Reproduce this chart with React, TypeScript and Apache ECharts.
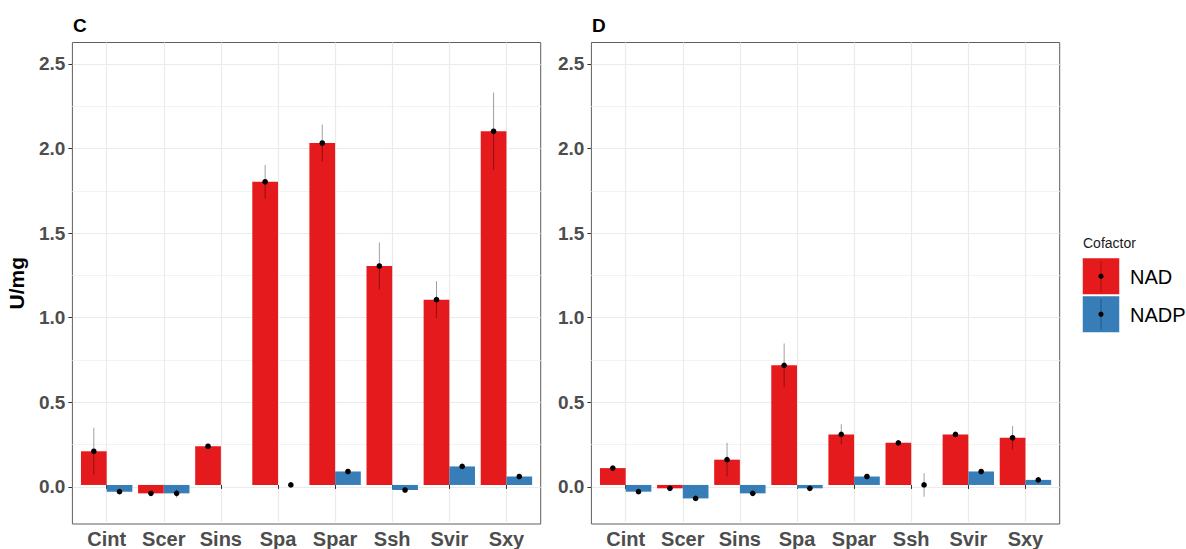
import React, { useEffect, useRef } from "react";
import * as echarts from "echarts";

const categories = ["Cint", "Scer", "Sins", "Spa", "Spar", "Ssh", "Svir", "Sxy"];
// Panel C
const nadC = [0.2, -0.05, 0.23, 1.8, 2.03, 1.3, 1.1, 2.1];
const nadCErr = [0.14, 0.01, 0.015, 0.1, 0.11, 0.14, 0.11, 0.23];
const nadpC = [-0.04, -0.05, null, 0.0, 0.08, -0.03, 0.11, 0.05];
const nadpCErr = [0.01, 0.025, null, 0.005, 0.01, 0.01, 0.01, 0.01];
// Panel D
const nadD = [0.1, -0.02, 0.15, 0.71, 0.3, 0.25, 0.3, 0.28];
const nadDErr = [0.01, 0.005, 0.1, 0.13, 0.06, 0.01, 0.01, 0.07];
const nadpD = [-0.04, -0.08, -0.05, -0.02, 0.05, 0.0, 0.08, 0.03];
const nadpDErr = [0.01, 0.01, 0.01, 0.01, 0.01, 0.07, 0.01, 0.01];

const yTicks = [0, 0.5, 1, 1.5, 2, 2.5];
const yMinor = [0.25, 0.75, 1.25, 1.75, 2.25];
const Y_MIN = -0.22;
const Y_MAX = 2.627;

const RED = "#E41A1C";
const BLUE = "#377EB8";
const FONT = "Liberation Sans, Arial, Helvetica, sans-serif";

const PANEL_W = 468.3;
const PANEL_TOP = 42.5;
const PANEL_H = 481.5;
const BAND = PANEL_W / 8.2;
const panelsLeft = [72.4, 591.4];

function errItems(vals: (number | null)[], errs: (number | null)[], side: number) {
  const out: any[] = [];
  vals.forEach((v, i) => {
    if (v === null || v === undefined) return;
    const e = (errs[i] as number) || 0;
    out.push([i, v, v - e, v + e, side]);
  });
  return out;
}

function renderErr(params: any, api: any) {
  const idx = api.value(0);
  const v = api.value(1);
  const lo = api.value(2);
  const hi = api.value(3);
  const side = api.value(4);
  const band = api.size([1, 0])[0];
  const dx = side * 0.225 * band;
  const p = api.coord([idx, v]);
  const pl = api.coord([idx, lo]);
  const ph = api.coord([idx, hi]);
  const x = p[0] + dx;
  return {
    type: "group",
    children: [
      {
        type: "line",
        shape: { x1: x, y1: ph[1], x2: x, y2: pl[1] },
        style: { stroke: "rgba(0,0,0,0.38)", lineWidth: 1 },
      },
      {
        type: "circle",
        shape: { cx: x, cy: p[1], r: 2.8 },
        style: { fill: "#000" },
      },
    ],
  };
}

export default function App() {
  const ref = useRef<HTMLDivElement>(null);
  useEffect(() => {
    if (!ref.current) return;
    const chart = echarts.init(ref.current, null, { renderer: "svg" });

    const grids: any[] = [];
    const xAxes: any[] = [];
    const yAxes: any[] = [];
    const series: any[] = [];
    const panelData = [
      { nad: nadC, nadErr: nadCErr, nadp: nadpC, nadpErr: nadpCErr },
      { nad: nadD, nadErr: nadDErr, nadp: nadpD, nadpErr: nadpDErr },
    ];

    panelsLeft.forEach((left, p) => {
      const outer = p * 2;
      const inner = p * 2 + 1;
      grids.push({
        left: left,
        top: PANEL_TOP,
        width: PANEL_W,
        height: PANEL_H,
        show: true,
        borderColor: "#5e5e5e",
        borderWidth: 1,
        backgroundColor: "transparent",
        containLabel: false,
      });
      grids.push({
        left: left + 0.1 * BAND,
        top: PANEL_TOP,
        width: 8 * BAND,
        height: PANEL_H,
        containLabel: false,
      });
      xAxes.push({ type: "value", gridIndex: outer, min: 0, max: 1, show: false });
      xAxes.push({
        type: "category",
        gridIndex: inner,
        data: categories,
        axisLine: { show: false },
        axisTick: {
          show: true,
          interval: 0,
          alignWithLabel: true,
          length: 4,
          lineStyle: { color: "#333", width: 1 },
        },
        axisLabel: {
          show: true,
          interval: 0,
          hideOverlap: false,
          margin: 7,
          fontFamily: FONT,
          fontWeight: "bold",
          fontSize: 20,
          color: "#4D4D4D",
        },
        splitLine: { show: false },
      });
      yAxes.push({
        type: "value",
        gridIndex: outer,
        min: Y_MIN,
        max: Y_MAX,
        axisLine: { show: false },
        splitLine: { show: false },
        axisTick: {
          show: true,
          customValues: yTicks,
          length: 4,
          lineStyle: { color: "#333", width: 1 },
        },
        axisLabel: {
          show: true,
          customValues: yTicks,
          formatter: (v: number) => v.toFixed(1),
          margin: 7,
          fontFamily: FONT,
          fontWeight: "bold",
          fontSize: 19,
          color: "#4D4D4D",
        },
        name: p === 0 ? "U/mg" : "",
        nameLocation: "middle",
        nameRotate: 90,
        nameGap: 45,
        nameTextStyle: { fontFamily: FONT, fontWeight: "bold", fontSize: 21, color: "#000" },
      });
      yAxes.push({ type: "value", gridIndex: inner, min: Y_MIN, max: Y_MAX, show: false });

      // horizontal grid lines
      series.push({
        type: "line",
        xAxisIndex: outer,
        yAxisIndex: outer,
        data: [],
        silent: true,
        markLine: {
          silent: true,
          symbol: "none",
          z: 0,
          animation: false,
          label: { show: false },
          data: [
            ...yMinor.map((v) => ({ yAxis: v, lineStyle: { color: "#F2F2F2", width: 1, type: "solid" } })),
            ...yTicks.map((v) => ({ yAxis: v, lineStyle: { color: "#EBEBEB", width: 1.2, type: "solid" } })),
          ],
        },
      });
      // vertical grid lines
      series.push({
        type: "line",
        xAxisIndex: inner,
        yAxisIndex: inner,
        data: [],
        silent: true,
        markLine: {
          silent: true,
          symbol: "none",
          z: 0,
          animation: false,
          label: { show: false },
          data: categories.map((c) => ({ xAxis: c, lineStyle: { color: "#EBEBEB", width: 1.2, type: "solid" } })),
        },
      });

      const d = panelData[p];
      series.push({
        type: "bar",
        name: "NAD",
        xAxisIndex: inner,
        yAxisIndex: inner,
        data: d.nad,
        barWidth: "45%",
        barGap: "0%",
        itemStyle: { color: RED },
        z: 2,
      });
      series.push({
        type: "bar",
        name: "NADP",
        xAxisIndex: inner,
        yAxisIndex: inner,
        data: d.nadp,
        barWidth: "45%",
        barGap: "0%",
        itemStyle: { color: BLUE },
        z: 2,
      });
      series.push({
        type: "custom",
        xAxisIndex: inner,
        yAxisIndex: inner,
        renderItem: renderErr,
        data: [...errItems(d.nad, d.nadErr, -1), ...errItems(d.nadp, d.nadpErr, 1)],
        z: 3,
      });
    });

    const graphic: any[] = [
      {
        type: "text",
        x: 73,
        y: 25,
        style: { text: "C", fontFamily: FONT, fontWeight: "bold", fontSize: 19, fill: "#000", verticalAlign: "middle" },
      },
      {
        type: "text",
        x: 592,
        y: 25,
        style: { text: "D", fontFamily: FONT, fontWeight: "bold", fontSize: 19, fill: "#000", verticalAlign: "middle" },
      },
      {
        type: "text",
        x: 1083,
        y: 243,
        style: { text: "Cofactor", fontFamily: FONT, fontSize: 14, fill: "#1a1a1a", verticalAlign: "middle" },
      },
    ];
    const legendItems = [
      { name: "NAD", color: RED, y: 258 },
      { name: "NADP", color: BLUE, y: 296 },
    ];
    legendItems.forEach((it) => {
      graphic.push({
        type: "rect",
        shape: { x: 1082.5, y: it.y, width: 37, height: 36.5 },
        style: { fill: it.color, stroke: "rgba(255,255,255,0.5)", lineWidth: 1 },
      });
      graphic.push({
        type: "line",
        shape: { x1: 1101, y1: it.y + 3, x2: 1101, y2: it.y + 33.5 },
        style: { stroke: "rgba(0,0,0,0.3)", lineWidth: 1 },
      });
      graphic.push({
        type: "circle",
        shape: { cx: 1101, cy: it.y + 18.25, r: 2.6 },
        style: { fill: "#000" },
      });
      graphic.push({
        type: "text",
        x: 1130,
        y: it.y + 18.5,
        style: { text: it.name, fontFamily: FONT, fontSize: 20, fill: "#000", verticalAlign: "middle" },
      });
    });

    chart.setOption({
      animation: false,
      backgroundColor: "#fff",
      grid: grids,
      xAxis: xAxes,
      yAxis: yAxes,
      series,
      graphic,
    });
    return () => chart.dispose();
  }, []);
  return (
    <div
      ref={ref}
      style={{ position: "fixed", left: 0, top: 0, width: 1186, height: 549, background: "#fff" }}
    />
  );
}
